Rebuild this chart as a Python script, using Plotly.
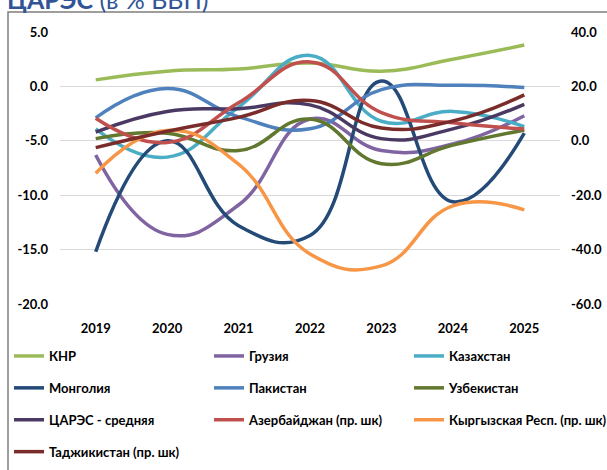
import plotly.graph_objects as go

years = ["2019", "2020", "2021", "2022", "2023", "2024", "2025"]

# left axis series (% of GDP)
knr = [0.6, 1.4, 1.6, 2.15, 1.4, 2.5, 3.8]
georgia = [-6.3, -13.6, -10.9, -3.0, -5.9, -5.3, -2.7]
kazakhstan = [-3.9, -6.5, -1.9, 2.85, -3.2, -2.3, -3.7]
mongolia = [-15.2, -5.0, -12.8, -13.7, 0.5, -10.6, -4.3]
pakistan = [-2.9, -0.2, -2.8, -3.9, -0.3, 0.1, -0.1]
uzbekistan = [-4.8, -4.3, -5.9, -3.0, -7.1, -5.4, -4.0]
carec_avg = [-4.2, -2.3, -2.05, -1.7, -4.8, -3.9, -1.65]

# right axis series
azerbaijan = [8.3, -0.6, 14.0, 29.0, 10.4, 6.6, 4.3]
kyrgyz = [-11.9, 3.8, -8.6, -41.6, -46.0, -23.9, -25.4]
tajikistan = [-2.5, 3.5, 8.6, 14.8, 4.7, 7.3, 16.9]

left_ticks = [5, 0, -5, -10, -15, -20]
left_ticktext = ["5.0", "0.0", "-5.0", "-10.0", "-15.0", "-20.0"]
right_ticks = [40, 20, 0, -20, -40, -60]
right_ticktext = ["40.0", "20.0", "0.0", "-20.0", "-40.0", "-60.0"]

series = [
    ("КНР", knr, "#9BBB59", "y", "legend"),
    ("Грузия", georgia, "#8064A2", "y", "legend2"),
    ("Казахстан", kazakhstan, "#4BACC6", "y", "legend3"),
    ("Монголия", mongolia, "#244A77", "y", "legend"),
    ("Пакистан", pakistan, "#4F81BD", "y", "legend2"),
    ("Узбекистан", uzbekistan, "#62782F", "y", "legend3"),
    ("ЦАРЭС - средняя", carec_avg, "#4A3A63", "y", "legend"),
    ("Азербайджан (пр. шк)", azerbaijan, "#C0504D", "y2", "legend2"),
    ("Кыргызская Респ. (пр. шк)", kyrgyz, "#F79646", "y2", "legend3"),
    ("Таджикистан (пр. шк)", tajikistan, "#7A2C2A", "y2", "legend"),
]

FONT = "Lato, 'Open Sans', sans-serif"

fig = go.Figure()
for name, vals, color, yax, leg in series:
    fig.add_trace(go.Scatter(
        x=years, y=vals, name=name, mode="lines", yaxis=yax,
        line=dict(color=color, width=3.5, shape="spline", smoothing=1.3),
        legend=leg, legendgroup=name,
    ))

W, H = 607, 470
L, R, T, B = 60, 47, 32, 166
PW, PH = W - L - R, H - T - B


def px(xp):
    return (xp - L) / PW


def py(yp):
    return (H - B - yp) / PH


legend_common = dict(
    orientation="v", xanchor="left", yanchor="top", tracegroupgap=12,
    font=dict(family=FONT, size=13, color="#000000", weight="bold"),
    bgcolor="rgba(0,0,0,0)", borderwidth=0,
)

tick_font = dict(family=FONT, size=13, color="#000", weight="bold")

fig.update_layout(
    width=W, height=H,
    margin=dict(l=L, r=R, t=T, b=B, pad=0, autoexpand=False),
    paper_bgcolor="white", plot_bgcolor="white",
    showlegend=True,
    xaxis=dict(
        type="category", range=[-0.5, 6.5], showgrid=False, zeroline=False,
        showline=False, ticks="", ticklabelstandoff=15, tickfont=tick_font,
    ),
    yaxis=dict(
        range=[-20, 5], tickvals=left_ticks, ticktext=left_ticktext,
        showgrid=True, gridcolor="#D9D9D9", gridwidth=1, zeroline=False,
        showline=False, ticks="", ticklabelstandoff=11, tickfont=tick_font,
    ),
    yaxis2=dict(
        range=[-60, 40], tickvals=right_ticks, ticktext=right_ticktext,
        overlaying="y", side="right", showgrid=False, zeroline=False,
        showline=False, ticks="", ticklabelstandoff=10, tickfont=tick_font,
    ),
    legend=dict(x=px(9), y=py(341), **legend_common),
    legend2=dict(x=px(209), y=py(341), **legend_common),
    legend3=dict(x=px(409), y=py(341), **legend_common),
    shapes=[dict(
        type="rect", xref="paper", yref="paper",
        x0=px(8), x1=px(W + 10), y0=py(H + 10), y1=py(12),
        line=dict(color="#7F7F7F", width=1.5), fillcolor="rgba(0,0,0,0)", layer="below",
    )],
    annotations=[dict(
        text="<b>ЦАРЭС</b> (в % ВВП)", xref="paper", yref="paper",
        x=px(5), y=py(16),
        xanchor="left", yanchor="bottom", showarrow=False,
        font=dict(family=FONT, size=25, color="#2F5597"),
    )],
)

fig.write_html(
    "out.html",
    config={"displayModeBar": False},
    post_script="document.body.style.margin='0';",
)
